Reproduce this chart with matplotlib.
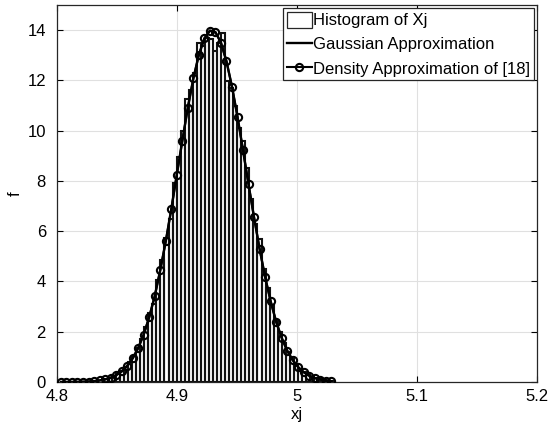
import numpy as np
import matplotlib.pyplot as plt
from matplotlib.patches import Patch
from matplotlib.ticker import FormatStrFormatter

plt.rcParams['font.family'] = ['Liberation Sans', 'DejaVu Sans']

# histogram of Xj (bin edges start, bin width, bar heights)
hist_start = 4.83901
hist_width = 0.00337
hist_heights = [0.11, 0.16, 0.23, 0.32, 0.43, 0.59, 0.79, 1.04, 1.35, 1.73,
                2.19, 2.73, 3.10, 4.07, 4.87, 5.74, 6.50, 7.90, 8.97, 9.97,
                11.27, 11.60, 12.30, 13.49, 13.35, 13.70, 13.65, 13.16, 13.50, 13.90,
                11.96, 11.70, 11.00, 10.10, 9.57, 8.50, 7.30, 6.30, 5.68, 4.50,
                3.75, 3.05, 2.48, 1.98, 1.55, 1.20, 0.92, 0.70, 0.52, 0.38,
                0.28, 0.20, 0.14, 0.10, 0.07, 0.04, 0.03]

# density approximation of [18] (circles) and gaussian approximation (solid)
dens_x = np.linspace(4.8033, 5.0286, 50)
dens_f = [0.001, 0.002, 0.003, 0.006, 0.011, 0.020, 0.036, 0.062, 0.104, 0.170,
          0.27, 0.42, 0.64, 0.94, 1.35, 1.89, 2.58, 3.42, 4.45, 5.60,
          6.88, 8.25, 9.60, 10.92, 12.08, 13.02, 13.67, 13.98, 13.92, 13.50,
          12.76, 11.75, 10.55, 9.22, 7.86, 6.55, 5.30, 4.18, 3.22, 2.40,
          1.76, 1.25, 0.87, 0.59, 0.39, 0.25, 0.16, 0.095, 0.055, 0.032]
gauss_x = dens_x
gauss_f = [0.001, 0.002, 0.003, 0.006, 0.011, 0.020, 0.036, 0.062, 0.104, 0.170,
           0.27, 0.42, 0.64, 0.94, 1.35, 1.89, 2.58, 3.42, 4.45, 5.60,
           6.88, 8.25, 9.60, 10.92, 12.08, 13.02, 13.67, 13.98, 13.92, 13.50,
           12.76, 11.75, 10.55, 9.22, 7.86, 6.55, 5.30, 4.18, 3.22, 2.40,
           1.76, 1.25, 0.87, 0.59, 0.39, 0.25, 0.16, 0.095, 0.055, 0.032]

fig = plt.figure(figsize=(5.49, 4.34), dpi=100)
ax = fig.add_axes([0.1038, 0.1198, 0.8743, 0.8687])

left_edges = hist_start + hist_width * np.arange(len(hist_heights))
# white fill first, outlines on top so shared edges stay full width
ax.bar(left_edges, hist_heights, width=hist_width, align='edge',
       facecolor='white', edgecolor='none', zorder=2)
ax.bar(left_edges, hist_heights, width=hist_width, align='edge',
       fill=False, edgecolor='#111111', linewidth=1.5, zorder=2.5)
l_g, = ax.plot(gauss_x, gauss_f, '-', color='black', linewidth=1.7, zorder=3)
l_d, = ax.plot(dens_x, dens_f, '-o', color='black', linewidth=1.5, markersize=5.2,
               markerfacecolor='none', markeredgewidth=1.5, zorder=4)

ax.set_xlim(4.8, 5.2)
ax.set_ylim(0, 15)
ax.set_xticks([4.8, 4.9, 5.0, 5.1, 5.2])
ax.set_yticks([0, 2, 4, 6, 8, 10, 12, 14])
ax.xaxis.set_major_formatter(FormatStrFormatter('%g'))
ax.tick_params(direction='in', labelsize=12, length=4, top=True, right=True,
               labeltop=False, labelright=False)
ax.tick_params(axis='y', pad=8)
ax.tick_params(axis='x', pad=5)
ax.grid(True, color='#e0e0e0', linewidth=0.8, zorder=0)
ax.set_axisbelow(True)
for s in ax.spines.values():
    s.set_linewidth(0.9)
    s.set_color('#262626')

ax.set_xlabel('xj', fontsize=12, labelpad=2)
ax.set_ylabel('f', fontsize=12, labelpad=3)

hist_proxy = Patch(facecolor='white', edgecolor='#262626', linewidth=0.9)
leg = ax.legend([hist_proxy, l_g, l_d],
                ['Histogram of Xj', 'Gaussian Approximation', 'Density Approximation of [18]'],
                loc='upper right', fontsize=12, frameon=True, fancybox=False,
                edgecolor='#262626', framealpha=1, borderaxespad=0.2,
                handlelength=1.5, handleheight=1.1, handletextpad=0.1,
                labelspacing=0.45, borderpad=0.2)
leg.get_frame().set_linewidth(0.9)

fig.savefig('out.png', dpi=100)
